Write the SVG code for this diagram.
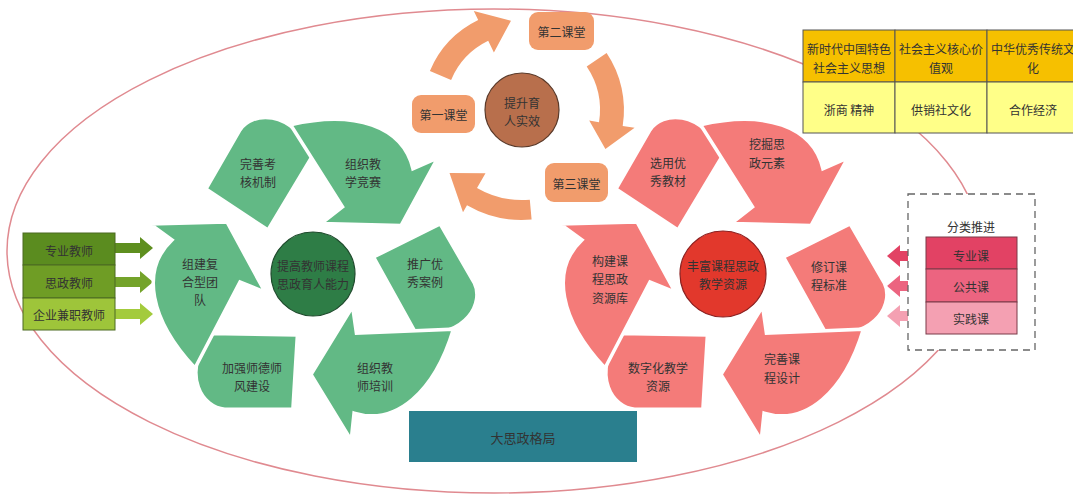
<svg xmlns="http://www.w3.org/2000/svg" xmlns:xlink="http://www.w3.org/1999/xlink" width="1073" height="496" viewBox="0 0 1073 496">
<style>
.t{font-family:"Noto Sans CJK SC","Noto Sans",sans-serif;font-size:12px;fill:#333;text-anchor:middle;dominant-baseline:central}
.g{fill:#62b985;stroke:#fff;stroke-width:3.5}
.r{fill:#f47b79;stroke:#fff;stroke-width:3.5}
.o{fill:#f19c6c}
.cell{stroke:#555;stroke-width:1}
</style>
<defs>
<path id="arw" d="M195,368 C150,320 140,270 172,240 L150,224 L227,222 L265,292 L240,282 Z"/>
<path id="leaf" d="M206,189 L240,130 C252,112 290,108 313,155 L268,230 Z"/>
<path id="ra" d="M0,-5 H25 V-11 L38,0 L25,11 V5 H0 Z"/>
<path id="la" d="M0,-5 H-26 V-11 L-39,0 L-26,11 V5 H0 Z"/>
</defs>
<rect width="1073" height="496" fill="#fff"/>
<ellipse cx="494" cy="251" rx="487" ry="242" fill="none" stroke="#e08a90" stroke-width="1.5"/>

<g id="connectors">
<path class="o" d="M429.9,70.9 A100,100 0 0 1 478.2,20.1 L473.8,11.1 L511,20.7 L493.9,52.5 L488.2,40.8 A77,77 0 0 0 451.1,79.9 Z"/>
<path class="o" d="M606.6,53 A102,102 0 0 1 622.7,126 L634.6,127.8 L605.4,148.9 L589.2,120.6 L599,122.2 A78,78 0 0 0 586.7,66.4 Z"/>
<path class="o" d="M531.6,219.6 A110,110 0 0 1 467,205.3 L463,212.2 L449.5,173 L485.5,173.2 L477,187.9 A90,90 0 0 0 529.8,199.7 Z"/>
<use href="#ra" transform="translate(115,248)" fill="#5e8f1f"/>
<use href="#ra" transform="translate(115,282)" fill="#74a32a"/>
<use href="#ra" transform="translate(115,314)" fill="#a3cb3c"/>
<use href="#la" transform="translate(926,256)" fill="#e24264"/>
<use href="#la" transform="translate(926,286)" fill="#ec6480"/>
<use href="#la" transform="translate(926,316)" fill="#f4a0b2"/>
</g>

<g id="n-ke1"><rect x="412" y="95" width="63" height="38" rx="9" class="o"/><text class="t" x="443.5" y="114">第一课堂</text></g>
<g id="n-ke2"><rect x="529" y="12" width="65" height="38" rx="9" class="o"/><text class="t" x="561.5" y="31">第二课堂</text></g>
<g id="n-ke3"><rect x="545" y="163" width="63" height="39" rx="9" class="o"/><text class="t" x="576.5" y="183">第三课堂</text></g>
<g id="n-tisheng"><circle cx="522" cy="110" r="37" fill="#b86f4c" stroke="#5a3a2a" stroke-width="1.2"/><text class="t" x="522" y="102">提升育</text><text class="t" x="522" y="120">人实效</text></g>

<g id="g-wanshan"><use href="#leaf" class="g"/><text class="t" x="258" y="163">完善考</text><text class="t" x="258" y="181">核机制</text></g>
<g id="g-jingsai"><use href="#arw" class="g" transform="rotate(120 313 274)"/><text class="t" x="363" y="163">组织教</text><text class="t" x="363" y="181">学竞赛</text></g>
<g id="g-anli"><use href="#leaf" class="g" transform="rotate(120 313 274)"/><text class="t" x="425" y="263">推广优</text><text class="t" x="425" y="281">秀案例</text></g>
<g id="g-peixun"><use href="#arw" class="g" transform="rotate(240 313 274)"/><text class="t" x="375" y="367">组织教</text><text class="t" x="375" y="385">师培训</text></g>
<g id="g-shide"><use href="#leaf" class="g" transform="rotate(240 313 274)"/><text class="t" x="252" y="367">加强师德师</text><text class="t" x="252" y="385">风建设</text></g>
<g id="g-tuandui"><use href="#arw" class="g"/><text class="t" x="200" y="263">组建复</text><text class="t" x="200" y="281">合型团</text><text class="t" x="200" y="299">队</text></g>
<g id="g-center"><circle cx="313" cy="274" r="42" fill="#2e7d46" stroke="#1e4a2c" stroke-width="1.2"/><text class="t" x="313" y="265">提高教师课程</text><text class="t" x="313" y="283">思政育人能力</text></g>

<g id="r-jiaocai"><use href="#leaf" class="r" transform="translate(410,0)"/><text class="t" x="668" y="162">选用优</text><text class="t" x="668" y="180">秀教材</text></g>
<g id="r-yuansu"><use href="#arw" class="r" transform="translate(410,0) rotate(120 313 274)"/><text class="t" x="767" y="143">挖掘思</text><text class="t" x="767" y="162">政元素</text></g>
<g id="r-biaozhun"><use href="#leaf" class="r" transform="translate(410,0) rotate(120 313 274)"/><text class="t" x="829" y="266">修订课</text><text class="t" x="829" y="284">程标准</text></g>
<g id="r-sheji"><use href="#arw" class="r" transform="translate(410,0) rotate(240 313 274)"/><text class="t" x="782" y="358">完善课</text><text class="t" x="782" y="377">程设计</text></g>
<g id="r-shuzi"><use href="#leaf" class="r" transform="translate(410,0) rotate(240 313 274)"/><text class="t" x="658" y="367">数字化教学</text><text class="t" x="658" y="385">资源</text></g>
<g id="r-ziyuanku"><use href="#arw" class="r" transform="translate(410,0)"/><text class="t" x="610" y="260">构建课</text><text class="t" x="610" y="278">程思政</text><text class="t" x="610" y="297">资源库</text></g>
<g id="r-center"><circle cx="723" cy="274" r="43" fill="#e2382c" stroke="#8b2020" stroke-width="1.2"/><text class="t" x="723" y="265">丰富课程思政</text><text class="t" x="723" y="283">教学资源</text></g>

<g id="n-dasizheng"><rect x="409" y="411" width="228" height="51" fill="#2a7f8e"/><text class="t" x="523" y="437" fill="#1e2e33" style="font-size:13px">大思政格局</text></g>

<g id="n-teachers">
<rect x="23" y="233" width="92" height="32" fill="#5b8c1f" stroke="#4d6b22"/>
<rect x="23" y="265" width="92" height="33" fill="#6f9d25" stroke="#4d6b22"/>
<rect x="23" y="298" width="92" height="32" fill="#9ec53a" stroke="#4d6b22"/>
<text class="t" x="69" y="250">专业教师</text>
<text class="t" x="69" y="282">思政教师</text>
<text class="t" x="69" y="314">企业兼职教师</text>
</g>

<g id="n-fenlei">
<rect x="908" y="194" width="127" height="156" fill="#fff" stroke="#666" stroke-width="1.3" stroke-dasharray="7,5"/>
<text class="t" x="971" y="226">分类推进</text>
<rect x="926" y="237" width="91" height="32" fill="#e24264" stroke="#7a3a48"/>
<rect x="926" y="269" width="91" height="33" fill="#ec6480" stroke="#7a3a48"/>
<rect x="926" y="302" width="91" height="32" fill="#f4a0b2" stroke="#7a3a48"/>
<text class="t" x="971" y="255">专业课</text>
<text class="t" x="971" y="286">公共课</text>
<text class="t" x="971" y="318">实践课</text>
</g>

<g id="n-table">
<rect class="cell" x="803" y="30" width="92" height="52" fill="#f6c000"/>
<rect class="cell" x="895" y="30" width="92" height="52" fill="#f6c000"/>
<rect class="cell" x="987" y="30" width="92" height="52" fill="#f6c000"/>
<rect class="cell" x="803" y="82" width="92" height="51" fill="#ffff88"/>
<rect class="cell" x="895" y="82" width="92" height="51" fill="#ffff88"/>
<rect class="cell" x="987" y="82" width="92" height="51" fill="#ffff88"/>
<text class="t" x="849" y="48">新时代中国特色</text>
<text class="t" x="849" y="67">社会主义思想</text>
<text class="t" x="941" y="48">社会主义核心价</text>
<text class="t" x="941" y="67">值观</text>
<text class="t" x="1033" y="48">中华优秀传统文</text>
<text class="t" x="1033" y="67">化</text>
<text class="t" x="849" y="109">浙商 精神</text>
<text class="t" x="941" y="109">供销社文化</text>
<text class="t" x="1033" y="109">合作经济</text>
</g>
</svg>
